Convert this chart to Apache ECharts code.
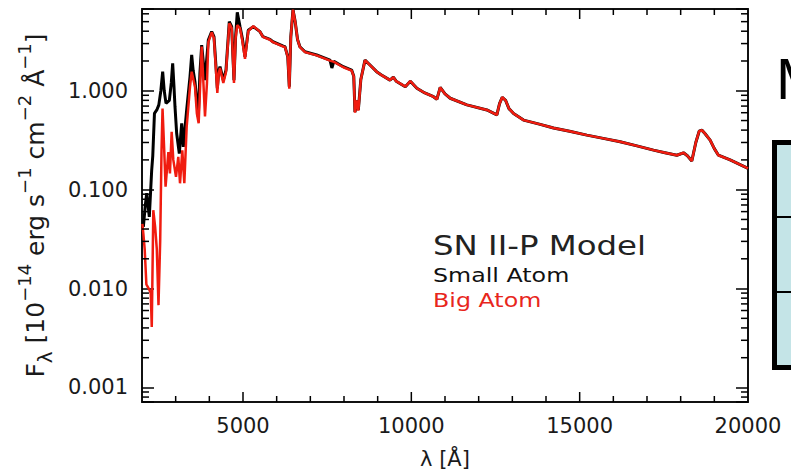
<!DOCTYPE html>
<html><head><meta charset="utf-8">
<script src="https://cdn.jsdelivr.net/npm/echarts@6/dist/echarts.min.js"></script>
<style>html,body{margin:0;padding:0;background:#fff}#c{width:791px;height:476px}</style>
</head><body><div id="c"></div>
<script>
// ---- data ----
const smallAtomWave = [2040,2100,2140,2217,2288,2320,2370,2440,2500,2560,2614,2660,2713,2812,2870,2911,2950,2980,3030,3108,3179,3227,3327,3426,3476,3520,3574,3673,3720,3773,3871,3970,4070,4138,4198,4237,4280,4317,4415,4495,4593,4664,4732,4780,4830,4911,4980,5059,5157,5306,5505,5593,5802,5890,6197,6247,6330,6375,6420,6485,6550,6620,6690,6842,7188,7584,7640,7700,7980,8227,8290,8326,8376,8426,8500,8623,8772,8969,9100,9366,9465,9550,9821,9970,10165,10400,10659,10758,10858,11000,11155,11650,12244,12541,12620,12700,12800,12900,13036,13333,13800,14224,14700,15213,15700,16203,16700,17193,17500,17886,18084,18200,18331,18450,18550,18628,18720,18875,19000,19122,19469,19750,20000];
const smallAtomFlux = [0.042,0.07,0.092,0.053,0.158,0.22,0.59,0.64,0.72,1.0,1.56,1.0,0.745,0.80,1.2,1.89,1.1,0.69,0.37,0.232,0.468,0.271,0.64,1.39,2.30,1.6,1.23,0.546,1.5,2.90,1.28,3.26,3.96,3.52,1.75,1.06,1.6,1.75,1.28,1.62,4.99,4.45,1.28,3.5,6.2,4.45,3.4,2.21,4.1,4.45,3.96,3.52,3.31,3.13,2.83,2.79,2.2,1.1,3.5,6.6,5.0,3.3,2.79,2.48,2.30,2.04,1.70,1.98,1.75,1.62,1.4,0.61,0.80,0.64,1.3,2.04,1.82,1.56,1.45,1.28,1.37,1.25,1.10,1.25,1.06,0.95,0.87,0.82,1.08,0.93,0.84,0.72,0.64,0.57,0.74,0.86,0.80,0.66,0.59,0.505,0.46,0.42,0.39,0.356,0.33,0.305,0.277,0.251,0.238,0.223,0.236,0.22,0.195,0.30,0.39,0.40,0.37,0.317,0.26,0.223,0.20,0.18,0.164];
const bigAtomWave = [2010,2040,2080,2130,2200,2260,2290,2336,2390,2440,2490,2540,2580,2610,2660,2700,2783,2830,2881,2930,3010,3078,3129,3197,3257,3327,3426,3476,3574,3630,3683,3773,3871,3930,3970,4070,4138,4198,4237,4280,4317,4415,4495,4593,4664,4732,4780,4830,4911,4980,5059,5157,5306,5505,5593,5802,5890,6197,6247,6330,6375,6420,6485,6550,6620,6690,6842,7188,7584,7700,7980,8227,8290,8326,8376,8426,8500,8623,8772,8969,9100,9366,9465,9550,9821,9970,10165,10400,10659,10758,10858,11000,11155,11650,12244,12541,12620,12700,12800,12900,13036,13333,13800,14224,14700,15213,15700,16203,16700,17193,17500,17886,18084,18200,18331,18450,18550,18628,18720,18875,19000,19122,19469,19750,20000];
const bigAtomFlux = [0.045,0.036,0.025,0.011,0.010,0.009,0.0041,0.062,0.042,0.025,0.0068,0.03,0.25,0.66,0.25,0.107,0.24,0.146,0.385,0.20,0.135,0.215,0.116,0.25,0.116,0.43,1.1,1.56,1.1,0.59,0.47,2.8,0.55,1.2,3.1,3.9,3.4,1.6,0.95,1.5,1.7,1.2,1.55,4.8,4.3,1.2,3.4,4.6,4.3,3.2,2.1,4.0,4.5,3.96,3.5,3.28,3.1,2.8,2.76,2.2,1.05,3.5,6.6,5.0,3.3,2.76,2.46,2.28,2.02,1.96,1.73,1.60,1.4,0.60,0.80,0.63,1.3,2.04,1.82,1.56,1.45,1.28,1.37,1.25,1.10,1.25,1.06,0.95,0.87,0.82,1.08,0.93,0.84,0.72,0.64,0.57,0.74,0.86,0.80,0.66,0.59,0.505,0.46,0.42,0.39,0.356,0.33,0.305,0.277,0.251,0.238,0.223,0.236,0.22,0.195,0.30,0.39,0.40,0.37,0.317,0.26,0.223,0.20,0.18,0.164];
const xTickLabels = [5000, 10000, 15000, 20000];
const yTickLabels = ['0.001', '0.010', '0.100', '1.000'];
const seriesNames = ['Small Atom', 'Big Atom'];

const xMin = 2000, xMax = 20000;
const yMin = 0.000713, yMax = 6.71;

const zip = (a, b) => a.map((x, i) => [x, b[i]]);
const FF = 'DejaVu Sans';
const mkTick = () => ({color: '#000', width: 1.5});
const chart = echarts.init(document.getElementById('c'), null, {renderer: 'svg'});
chart.setOption({
  animation: false,
  backgroundColor: '#fff',
  grid: {left: 142, right: 43, top: 9, bottom: 74},
  xAxis: [
    {type: 'value', min: xMin, max: xMax, interval: 1000, position: 'bottom',
     axisLine: {show: true, onZero: false, lineStyle: {color: '#111', width: 2}},
     axisTick: {show: false},
     splitLine: {show: false},
     axisLabel: {interval: 0, margin: 13, fontSize: 21, fontFamily: FF, color: '#1a1a1a',
       formatter: v => xTickLabels.indexOf(v) >= 0 ? String(v) : ''},
     name: 'λ [Å]', nameLocation: 'middle', nameGap: 46,
     nameTextStyle: {fontSize: 21, fontFamily: FF, color: '#1a1a1a'}},
    {type: 'value', min: xMin, max: xMax, interval: 1000, position: 'top',
     axisLine: {show: true, onZero: false, lineStyle: {color: '#111', width: 2}},
     axisTick: {show: false},
     splitLine: {show: false}, axisLabel: {show: false}}
  ],
  yAxis: [
    {type: 'log', logBase: 10, min: yMin, max: yMax, position: 'left',
     axisLine: {show: true, onZero: false, lineStyle: {color: '#111', width: 2}},
     axisTick: {show: true, inside: true, length: 12, lineStyle: mkTick()},
     splitLine: {show: false}, minorTick: {show: false},
     axisLabel: {margin: 14, fontSize: 21, fontFamily: FF, color: '#1a1a1a',
       formatter: v => { const s = v.toFixed(3); return yTickLabels.indexOf(s) >= 0 && Math.abs(Math.log10(v) - Math.round(Math.log10(v))) < 1e-6 ? s : ''; }},
     name: '{b|F}{sub|λ}{b| [10}{sup|−14}{b| erg s}{sup|−1}{b| cm}{sup|−2}{b| Å}{sup|−1}{b|]}',
     nameLocation: 'middle', nameGap: 87,
     nameTextStyle: {fontSize: 25, fontFamily: FF, color: '#1a1a1a', rich: {
       b: {fontSize: 25, fontFamily: FF, color: '#1a1a1a', lineHeight: 40, verticalAlign: 'middle'},
       sup: {fontSize: 18, fontFamily: FF, color: '#1a1a1a', lineHeight: 21, verticalAlign: 'top'},
       sub: {fontSize: 20, fontFamily: FF, color: '#1a1a1a', lineHeight: 22, verticalAlign: 'bottom'}
     }}},
    {type: 'log', logBase: 10, min: yMin, max: yMax, position: 'right',
     axisLine: {show: true, onZero: false, lineStyle: {color: '#111', width: 2}},
     axisTick: {show: true, inside: true, length: 12, lineStyle: mkTick()},
     splitLine: {show: false}, axisLabel: {show: false}}
  ],
  series: [
    {name: seriesNames[0], type: 'line', data: zip(smallAtomWave, smallAtomFlux), showSymbol: false,
     lineStyle: {color: '#000', width: 3}, z: 3},
    {name: seriesNames[1], type: 'line', data: zip(bigAtomWave, bigAtomFlux), showSymbol: false,
     lineStyle: {color: '#f01c10', width: 2.5}, z: 4}
  ]
});

// legend texts, side panel and extra tick marks placed through the chart's own scales
const graphics = [
  {type: 'text', left: 433, top: 232, scaleX: 1.2, style: {text: 'SN II-P Model', fontSize: 27, fontFamily: FF, fill: '#222'}},
  {type: 'text', left: 433, top: 266, scaleX: 1.25, style: {text: seriesNames[0], fontSize: 19, fontFamily: FF, fill: '#111'}},
  {type: 'text', left: 433, top: 291, scaleX: 1.25, style: {text: seriesNames[1], fontSize: 19, fontFamily: FF, fill: '#e8261c'}},
  {type: 'text', left: 776, top: 49, style: {text: 'M', fontSize: 58, fontFamily: 'Liberation Sans', fill: '#000'}},
  {type: 'rect', shape: {x: 774.5, y: 142.5, width: 40, height: 225}, style: {fill: '#c4e4e7', stroke: '#000', lineWidth: 5}},
  {type: 'line', shape: {x1: 774, y1: 217, x2: 791, y2: 217}, style: {stroke: '#000', lineWidth: 2}},
  {type: 'line', shape: {x1: 774, y1: 292, x2: 791, y2: 292}, style: {stroke: '#000', lineWidth: 2}}
];
const mkSt = () => ({stroke: '#000', lineWidth: 1.5});
const L = chart.convertToPixel({xAxisIndex: 0}, xMin);
const R = chart.convertToPixel({xAxisIndex: 0}, xMax);
const B = chart.convertToPixel({yAxisIndex: 0}, yMin);
const T = chart.convertToPixel({yAxisIndex: 0}, yMax);
for (let e = -4; e <= 0; e++) for (let m = 2; m <= 9; m++) {
  const v = m * Math.pow(10, e);
  if (v <= yMin || v >= yMax) continue;
  const y = chart.convertToPixel({yAxisIndex: 0}, v);
  graphics.push({type: 'line', silent: true, z: 50, shape: {x1: L, y1: y, x2: L + 7, y2: y}, style: mkSt()});
  graphics.push({type: 'line', silent: true, z: 50, shape: {x1: R, y1: y, x2: R - 7, y2: y}, style: mkSt()});
}
// x ticks: every 1000 (short), labelled ones longer; drawn as thin filled rects
for (let v = xMin + 1000; v < xMax; v += 1000) {
  const x = chart.convertToPixel({xAxisIndex: 0}, v);
  const h = xTickLabels.indexOf(v) >= 0 ? 10 : 6;
  graphics.push({type: 'rect', silent: true, z: 50, shape: {x: x - 0.75, y: B - h, width: 1.5, height: h}, style: {fill: '#000'}});
  graphics.push({type: 'rect', silent: true, z: 50, shape: {x: x - 0.75, y: T, width: 1.5, height: h}, style: {fill: '#000'}});
}
chart.setOption({graphic: graphics});
</script></body></html>
